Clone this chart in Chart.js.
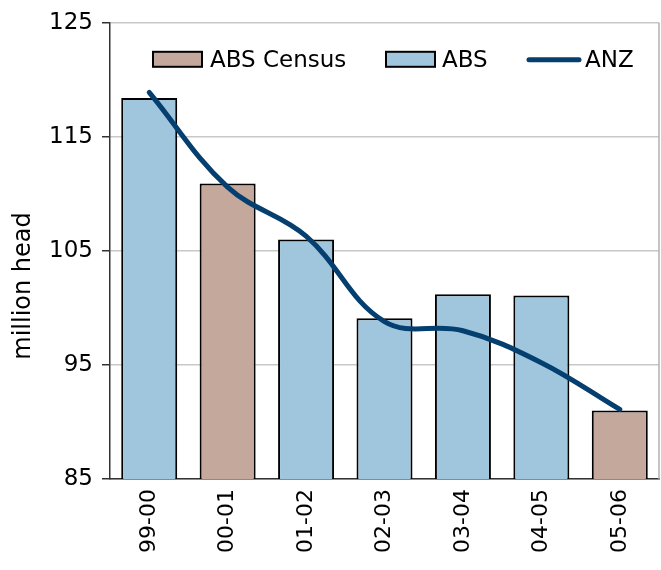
<!DOCTYPE html>
<html>
<head>
<meta charset="utf-8">
<script src="https://cdn.jsdelivr.net/npm/chart.js@4/dist/chart.umd.min.js"></script>
<style>
  html, body { margin: 0; padding: 0; background: #fff; }
  #wrap { width: 661px; height: 570px; }
</style>
</head>
<body>
<div id="wrap"><canvas id="c" width="661" height="570"></canvas></div>
<script>
// Seasons (financial years)
const seasons = ['99-00', '00-01', '01-02', '02-03', '03-04', '04-05', '05-06'];
// Sheep numbers, million head
const absCensus = [null, 110.9, null, null, null, null, 91.0];
const absSurvey = [118.4, null, 106.0, 99.1, 101.2, 101.1, null];
const anzEstimate = [118.9, 110.6, 106.3, 98.8, 98.0, 95.2, 91.1];
// Value axis ticks
const yTicks = [85, 95, 105, 115, 125];

const FONT = '"DejaVu Sans", Verdana, sans-serif';
const COL_CENSUS = '#c4a89c';
const COL_ABS = '#a0c6dd';
const COL_ANZ = '#053f70';

// Legend drawn inside the plot, along its top edge
// (swatch offset and text offset from the plot's left edge, per entry)
const legendSlots = [
  { swatch: 43, text: 100 },
  { swatch: 276, text: 332 },
  { swatch: 417, text: 475 }
];
const insideLegend = {
  id: 'insideLegend',
  afterDraw(chart) {
    const ctx = chart.ctx;
    const ca = chart.chartArea;
    ctx.save();
    ctx.font = '23px ' + FONT;
    ctx.textBaseline = 'middle';
    const cy = ca.top + 37;
    const items = chart.data.datasets.slice().sort((a, b) => a.legendRank - b.legendRank);
    items.forEach((ds, i) => {
      const sx = ca.left + legendSlots[i].swatch;
      if (ds.type === 'line') {
        ctx.strokeStyle = ds.borderColor;
        ctx.lineWidth = 5;
        ctx.lineCap = 'round';
        ctx.beginPath();
        ctx.moveTo(sx + 2, cy);
        ctx.lineTo(sx + 52, cy);
        ctx.stroke();
      } else {
        ctx.fillStyle = ds.backgroundColor;
        ctx.fillRect(sx, cy - 8, 49, 15);
        ctx.strokeStyle = '#000';
        ctx.lineWidth = 2;
        ctx.strokeRect(sx, cy - 8, 49, 15);
      }
      ctx.fillStyle = '#000';
      ctx.fillText(ds.label, ca.left + legendSlots[i].text, cy + 1);
    });
    ctx.restore();
  }
};

// Right edge of the plot frame and the rotated value-axis title
const frameAndTitle = {
  id: 'frameAndTitle',
  afterDraw(chart) {
    const ctx = chart.ctx;
    const ca = chart.chartArea;
    ctx.save();
    ctx.strokeStyle = '#b0b0b0';
    ctx.lineWidth = 1.5;
    ctx.beginPath();
    ctx.moveTo(ca.right, ca.top);
    ctx.lineTo(ca.right, ca.bottom);
    ctx.stroke();
    ctx.translate(24, 286);
    ctx.rotate(-Math.PI / 2);
    ctx.font = '24px ' + FONT;
    ctx.fillStyle = '#000';
    ctx.textAlign = 'center';
    ctx.textBaseline = 'middle';
    ctx.fillText('million head', 0, 0);
    ctx.restore();
  }
};

new Chart(document.getElementById('c'), {
  data: {
    labels: seasons,
    datasets: [
      {
        type: 'line',
        label: 'ANZ',
        legendRank: 2,
        data: anzEstimate,
        borderColor: COL_ANZ,
        backgroundColor: COL_ANZ,
        borderWidth: 5,
        borderCapStyle: 'round',
        borderJoinStyle: 'round',
        pointRadius: 0,
        tension: 0.38,
        fill: false,
        order: 0
      },
      {
        type: 'bar',
        label: 'ABS Census',
        legendRank: 0,
        data: absCensus,
        backgroundColor: COL_CENSUS,
        borderColor: '#000',
        borderWidth: 2,
        grouped: false,
        barPercentage: 0.714,
        categoryPercentage: 1.0,
        order: 1
      },
      {
        type: 'bar',
        label: 'ABS',
        legendRank: 1,
        data: absSurvey,
        backgroundColor: COL_ABS,
        borderColor: '#000',
        borderWidth: 2,
        grouped: false,
        barPercentage: 0.714,
        categoryPercentage: 1.0,
        order: 1
      }
    ]
  },
  options: {
    responsive: false,
    animation: false,
    devicePixelRatio: 1,
    layout: { padding: { top: 21, right: 2, left: 0, bottom: 0 } },
    plugins: {
      legend: { display: false },
      tooltip: { enabled: false }
    },
    scales: {
      x: {
        grid: { display: false, drawTicks: false },
        border: { display: true, color: '#333', width: 1.5 },
        ticks: {
          font: { family: FONT, size: 22 },
          color: '#000',
          minRotation: 90,
          maxRotation: 90,
          padding: 10
        },
        afterFit(scale) { scale.height = 91; }
      },
      y: {
        min: 85,
        max: 125,
        grid: { color: '#c8c8c8', lineWidth: 1.5, tickColor: '#333', tickLength: 8 },
        border: { display: true, color: '#333', width: 1.5 },
        afterBuildTicks(scale) { scale.ticks = yTicks.map(v => ({ value: v })); },
        ticks: {
          font: { family: FONT, size: 23 },
          color: '#000',
          padding: 9
        },
        afterFit(scale) { scale.width = 110; }
      }
    }
  },
  plugins: [insideLegend, frameAndTitle]
});
</script>
</body>
</html>
